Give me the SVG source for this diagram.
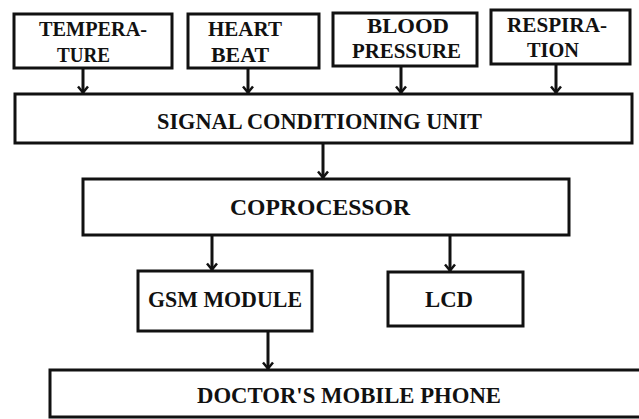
<svg xmlns="http://www.w3.org/2000/svg" width="639" height="419" viewBox="0 0 639 419">
<style>
.box{fill:#fff;stroke:#111;stroke-width:3}
.t{font-weight:bold;fill:#111;font-size:23px}
.s{font-size:21px}
.c{fill:none;stroke:#111;stroke-width:3}
</style>
<defs>
<marker id="ah" markerWidth="10" markerHeight="12" refX="8.5" refY="6" orient="auto" markerUnits="userSpaceOnUse" viewBox="0 0 10 12">
<polyline points="2,1 8,6 2,11" fill="none" stroke="#111" stroke-width="2.5"/>
</marker>
</defs>
<rect width="639" height="419" fill="#fff"/>
<g id="connectors">
<line class="c" x1="83" y1="68" x2="83" y2="93" marker-end="url(#ah)"/>
<line class="c" x1="248" y1="68" x2="248" y2="93" marker-end="url(#ah)"/>
<line class="c" x1="401" y1="66" x2="401" y2="93" marker-end="url(#ah)"/>
<line class="c" x1="556" y1="64" x2="556" y2="93" marker-end="url(#ah)"/>
<line class="c" x1="323" y1="143" x2="323" y2="178" marker-end="url(#ah)"/>
<line class="c" x1="212" y1="235" x2="212" y2="270" marker-end="url(#ah)"/>
<line class="c" x1="450" y1="235" x2="450" y2="271" marker-end="url(#ah)"/>
<line class="c" x1="268" y1="331" x2="268" y2="369" marker-end="url(#ah)"/>
</g>
<g font-family="Liberation Serif, Times New Roman, serif">
<g id="temperature">
<rect class="box" x="14" y="14" width="158" height="54"/>
<text class="t s" x="39" y="36" textLength="108" lengthAdjust="spacingAndGlyphs">TEMPERA-</text>
<text class="t s" x="57" y="62" textLength="53" lengthAdjust="spacingAndGlyphs">TURE</text>
</g>
<g id="heartbeat">
<rect class="box" x="188" y="14" width="131" height="54"/>
<text class="t s" x="208" y="36" textLength="74" lengthAdjust="spacingAndGlyphs">HEART</text>
<text class="t s" x="211" y="62" textLength="58" lengthAdjust="spacingAndGlyphs">BEAT</text>
</g>
<g id="bloodpressure">
<rect class="box" x="333" y="13" width="144" height="53"/>
<text class="t s" x="367" y="33" textLength="82" lengthAdjust="spacingAndGlyphs">BLOOD</text>
<text class="t s" x="352" y="58" textLength="109" lengthAdjust="spacingAndGlyphs">PRESSURE</text>
</g>
<g id="respiration">
<rect class="box" x="491" y="10" width="139" height="54"/>
<text class="t s" x="507" y="32" textLength="100" lengthAdjust="spacingAndGlyphs">RESPIRA-</text>
<text class="t s" x="527" y="57" textLength="52" lengthAdjust="spacingAndGlyphs">TION</text>
</g>
<g id="signal">
<rect class="box" x="15" y="94" width="617" height="49"/>
<text class="t" x="157" y="129" textLength="325" lengthAdjust="spacingAndGlyphs">SIGNAL CONDITIONING UNIT</text>
</g>
<g id="coprocessor">
<rect class="box" x="83" y="179" width="486" height="56"/>
<text class="t" x="230" y="215" textLength="180" lengthAdjust="spacingAndGlyphs">COPROCESSOR</text>
</g>
<g id="gsm">
<rect class="box" x="138" y="271" width="174" height="60"/>
<text class="t" x="148" y="307" textLength="154" lengthAdjust="spacingAndGlyphs">GSM MODULE</text>
</g>
<g id="lcd">
<rect class="box" x="388" y="272" width="135" height="54"/>
<text class="t" x="425" y="307" textLength="48" lengthAdjust="spacingAndGlyphs">LCD</text>
</g>
<g id="doctor">
<rect class="box" x="50" y="370" width="600" height="47"/>
<text class="t" x="197" y="403" textLength="304" lengthAdjust="spacingAndGlyphs">DOCTOR'S MOBILE PHONE</text>
</g>
</g>
</svg>
